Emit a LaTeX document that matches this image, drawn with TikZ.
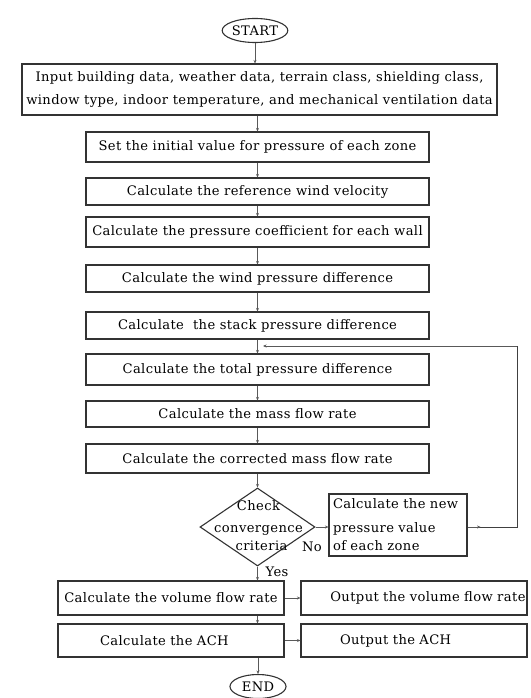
\documentclass[tikz,border=0pt]{standalone}
\usepackage{fontspec}
\setmainfont{DejaVu Serif}[LetterSpace=3]
\usepackage{tikz}
\usetikzlibrary{shapes.geometric,arrows.meta}

\begin{document}
\begin{tikzpicture}[x=1pt,y=-1pt,
    font=\fontsize{13.1}{23}\selectfont,
    blk/.style={draw=black!80,line width=1.1pt,inner sep=0pt,minimum width=343,minimum height=#1,align=center},
    oval/.style={draw=black!80,line width=1.1pt,ellipse,inner sep=0pt,minimum width=#1,minimum height=24},
    arr/.style={draw=black!65,line width=0.6pt,-{Stealth[length=3.5pt,width=3pt]}},
    line/.style={draw=black!75,line width=0.9pt}]
    \useasboundingbox (0,0) rectangle (530,698);
    \node[oval=60] (start) at (255,30.5) {START};
    \node[blk=51,minimum width=475] (input) at (259.5,89.5) {Input building data, weather data, terrain class, shielding class,\\window type, indoor temperature, and mechanical ventilation data};
    \node[blk=30] (set) at (257.5,147) {Set the initial value for pressure of each zone};
    \node[blk=27] (ref) at (257.5,191.5) {Calculate the reference wind velocity};
    \node[blk=30] (coeff) at (257.5,232) {Calculate the pressure coefficient for each wall};
    \node[blk=27] (wind) at (257.5,278.5) {Calculate the wind pressure difference};
    \node[blk=27] (stack) at (257.5,325.5) {Calculate \ the stack pressure difference};
    \node[blk=31] (total) at (257.5,369.5) {Calculate the total pressure difference};
    \node[blk=26] (mass) at (257.5,414) {Calculate the mass flow rate};
    \node[blk=29] (corr) at (257.5,458.5) {Calculate the corrected mass flow rate};
    \node[diamond,draw=black!80,line width=1.1pt,inner sep=0pt,minimum width=115,minimum height=78] (check) at (257.5,527) {};
    \node[align=center,inner sep=0pt] (checktxt) at (258.5,525.5) {Check\\[-1pt]convergence\\[-5pt]\hspace*{6pt}criteria};
    \node[blk=62,minimum width=138,align=left,text width=130] (newp) at (398,525) {Calculate the new\\[1pt]pressure value\\[-5pt]of each zone};
    \node[blk=34,minimum width=226] (volume) at (171,598) {Calculate the volume flow rate};
    \node[blk=34,minimum width=226,text width=223,align=right] (outvol) at (414,598) {Output the volume flow rate};
    \node[blk=33,minimum width=226,text width=226,align=left] (ach) at (171,640.5) {\hspace*{42pt}Calculate the ACH};
    \node[blk=33,minimum width=226,text width=226,align=left] (outach) at (414,640.5) {\hspace*{39pt}Output the ACH};
    \node[oval=56] (end) at (258,686.5) {END};
    \node[inner sep=0pt] (no) at (312,547) {No};
    \node[inner sep=0pt] (yes) at (277,572) {Yes};
    \coordinate (back) at (517,346);
    \coordinate (merge) at (263,346);

    \draw[arr] (start) -- (start |- input.north);
    \draw[arr] (input.south -| set) -- (set);
    \foreach \a/\b in {set/ref,ref/coeff,coeff/wind,wind/stack,stack/total,total/mass,mass/corr,corr/check}
      \draw[arr] (\a) -- (\b);
    \draw[arr] (check.east) -- (check.east -| newp.west);
    \draw[arr] (check.south) -- (check.south |- volume.north);
    \draw[arr] (volume.south -| check.south) -- (ach.north -| check.south);
    \draw[arr] (ach.south -| end) -- (end);
    \draw[arr] (volume) -- (outvol);
    \draw[arr] (ach) -- (outach);
    % loop back to the total pressure difference
    \draw[line] (newp.east |- check) -| (back);
    \draw[arr] (newp.east |- check) -- ++(13,0);
    \draw[arr] (back) -- (merge);
\end{tikzpicture}
\end{document}
